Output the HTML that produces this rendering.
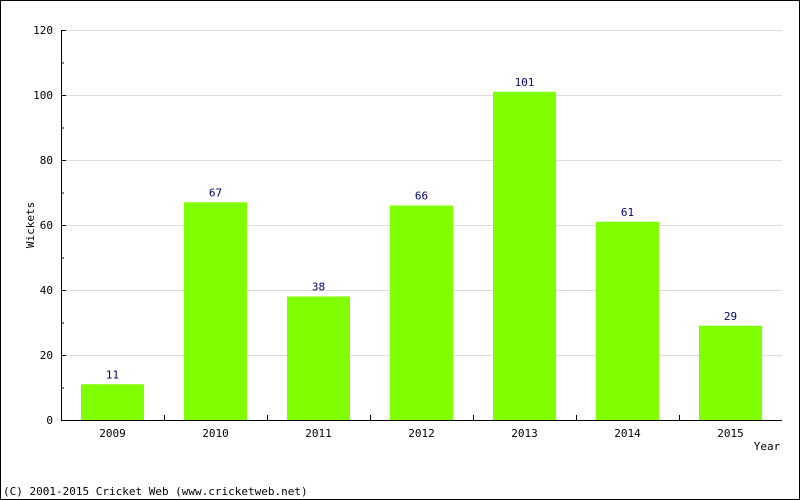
<!DOCTYPE html>
<html><head><meta charset="utf-8"><style>
html,body{margin:0;padding:0;background:#fff}
svg{display:block}
text{font-family:"DejaVu Sans Mono","Liberation Mono",monospace;font-size:11px}
</style></head><body>
<svg id="chart" width="800" height="500" xmlns="http://www.w3.org/2000/svg">
<rect x="0.5" y="0.5" width="799" height="499" fill="#fff" stroke="#000"/>
<g id="grid"></g>
<g id="bars"></g>
<g id="axes"></g>
<text transform="translate(34,225) rotate(-90)" text-anchor="middle" fill="#000">Wickets</text>
<text x="767" y="450" text-anchor="middle" fill="#000">Year</text>
<text x="3" y="495" fill="#000">(C) 2001-2015 Cricket Web (www.cricketweb.net)</text>
</svg>
<script>
const categories=["2009","2010","2011","2012","2013","2014","2015"];
const wickets=[11,67,38,66,101,61,29];
const yTicks=[0,20,40,60,80,100,120];
const NS="http://www.w3.org/2000/svg";
const x0=61,x1=782,y0=420,yTop=30,yMax=120;
const bw=(x1-x0)/categories.length;
const y=v=>y0-(v/yMax)*(y0-yTop);
const xc=i=>x0+bw*(i+0.5);
function mk(tag,attrs,parent,txt){const e=document.createElementNS(NS,tag);for(const k in attrs)e.setAttribute(k,attrs[k]);if(txt!==undefined)e.textContent=txt;parent.appendChild(e);return e;}
const grid=document.getElementById('grid'),bars=document.getElementById('bars'),axes=document.getElementById('axes');
yTicks.forEach(t=>{
  if(t>0){const g=mk('line',{x1:x0,x2:x1,y1:y(t)+0.5,y2:y(t)+0.5,stroke:'#ddd'},grid);
  
  }
  const tk=mk('line',{x1:x0,x2:x0+5,y1:y(t)+0.5,y2:y(t)+0.5,stroke:'#000'},axes);
  
  
  const lb=mk('text',{x:x0-8,y:y(t)+4,'text-anchor':'end',fill:'#000'},axes,String(t));
  
  
  if(t<yMax){const m=mk('line',{x1:x0,x2:x0+3,y1:y(t+10)+0.5,y2:y(t+10)+0.5,stroke:'#000'},axes);
  
  }
});
categories.forEach((c,i)=>{
  const v=wickets[i];
  const r=mk('rect',{x:xc(i)-31.5,y:y(v),width:63,height:y0-y(v),fill:'#80ff00'},bars);
  
  
  const vl=mk('text',{x:xc(i),y:y(v)-6,'text-anchor':'middle',fill:'#000080'},bars,String(v));
  
  
  const xl=mk('text',{x:xc(i),y:437,'text-anchor':'middle',fill:'#000'},axes,c);
  
  
  if(i>0){const tk=mk('line',{x1:x0+bw*i+0.5,x2:x0+bw*i+0.5,y1:y0,y2:y0-5,stroke:'#000'},axes);
  
  }
});
const ya=mk('line',{x1:x0+0.5,x2:x0+0.5,y1:yTop,y2:y0+0.5,stroke:'#000'},axes);


const xa=mk('line',{x1:x0,x2:x1,y1:y0+0.5,y2:y0+0.5,stroke:'#000'},axes);


</script>
</body></html>
